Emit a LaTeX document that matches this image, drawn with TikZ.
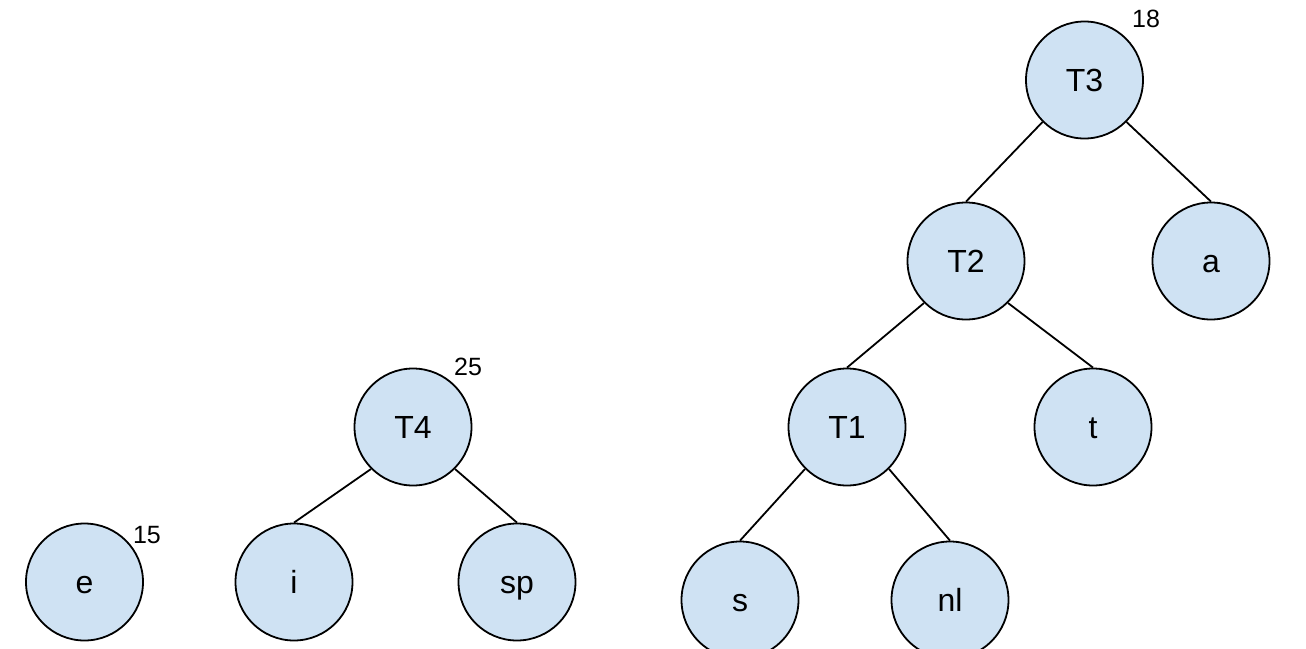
\documentclass[tikz,border=0pt]{standalone}
\usepackage{fontspec}
\setmainfont{Liberation Sans}
\definecolor{nodeblue}{HTML}{CFE2F3}
\begin{document}
\begin{tikzpicture}[x=1pt,y=-1pt,
  tnode/.style={circle,draw=black,line width=1.8pt,fill=nodeblue,minimum size=117pt,inner sep=0pt,
    font=\fontsize{32}{34}\selectfont,text height=29pt,text depth=6.8pt},
  wt/.style={font=\fontsize{25}{28}\selectfont,inner sep=0pt}]
\useasboundingbox (0,0) rectangle (1306,648);
\node[tnode] (e) at (84.5,582) {e};
\node[tnode] (i) at (294,582) {i};
\node[tnode] (sp) at (517,582) {sp};
\node[tnode] (T4) at (413,427) {T4};
\node[tnode] (s) at (740,600) {s};
\node[tnode] (nl) at (950,600) {nl};
\node[tnode] (T1) at (847,427) {T1};
\node[tnode] (t) at (1093,427) {t};
\node[tnode] (T2) at (966,261) {T2};
\node[tnode] (a) at (1211,261) {a};
\node[tnode] (T3) at (1084.5,80) {T3};
\node[wt] (we) at (147,535) {15};
\node[wt] (wT4) at (468,367) {25};
\node[wt] (wT3) at (1146,19) {18};
\draw[line width=1.8pt] (T4.-135)--(i.north) (T4.-45)--(sp.north)
  (T1.-135)--(s.north) (T1.-45)--(nl.north)
  (T2.-135)--(T1.north) (T2.-45)--(t.north)
  (T3.-135)--(T2.north) (T3.-45)--(a.north);
\end{tikzpicture}
\end{document}
